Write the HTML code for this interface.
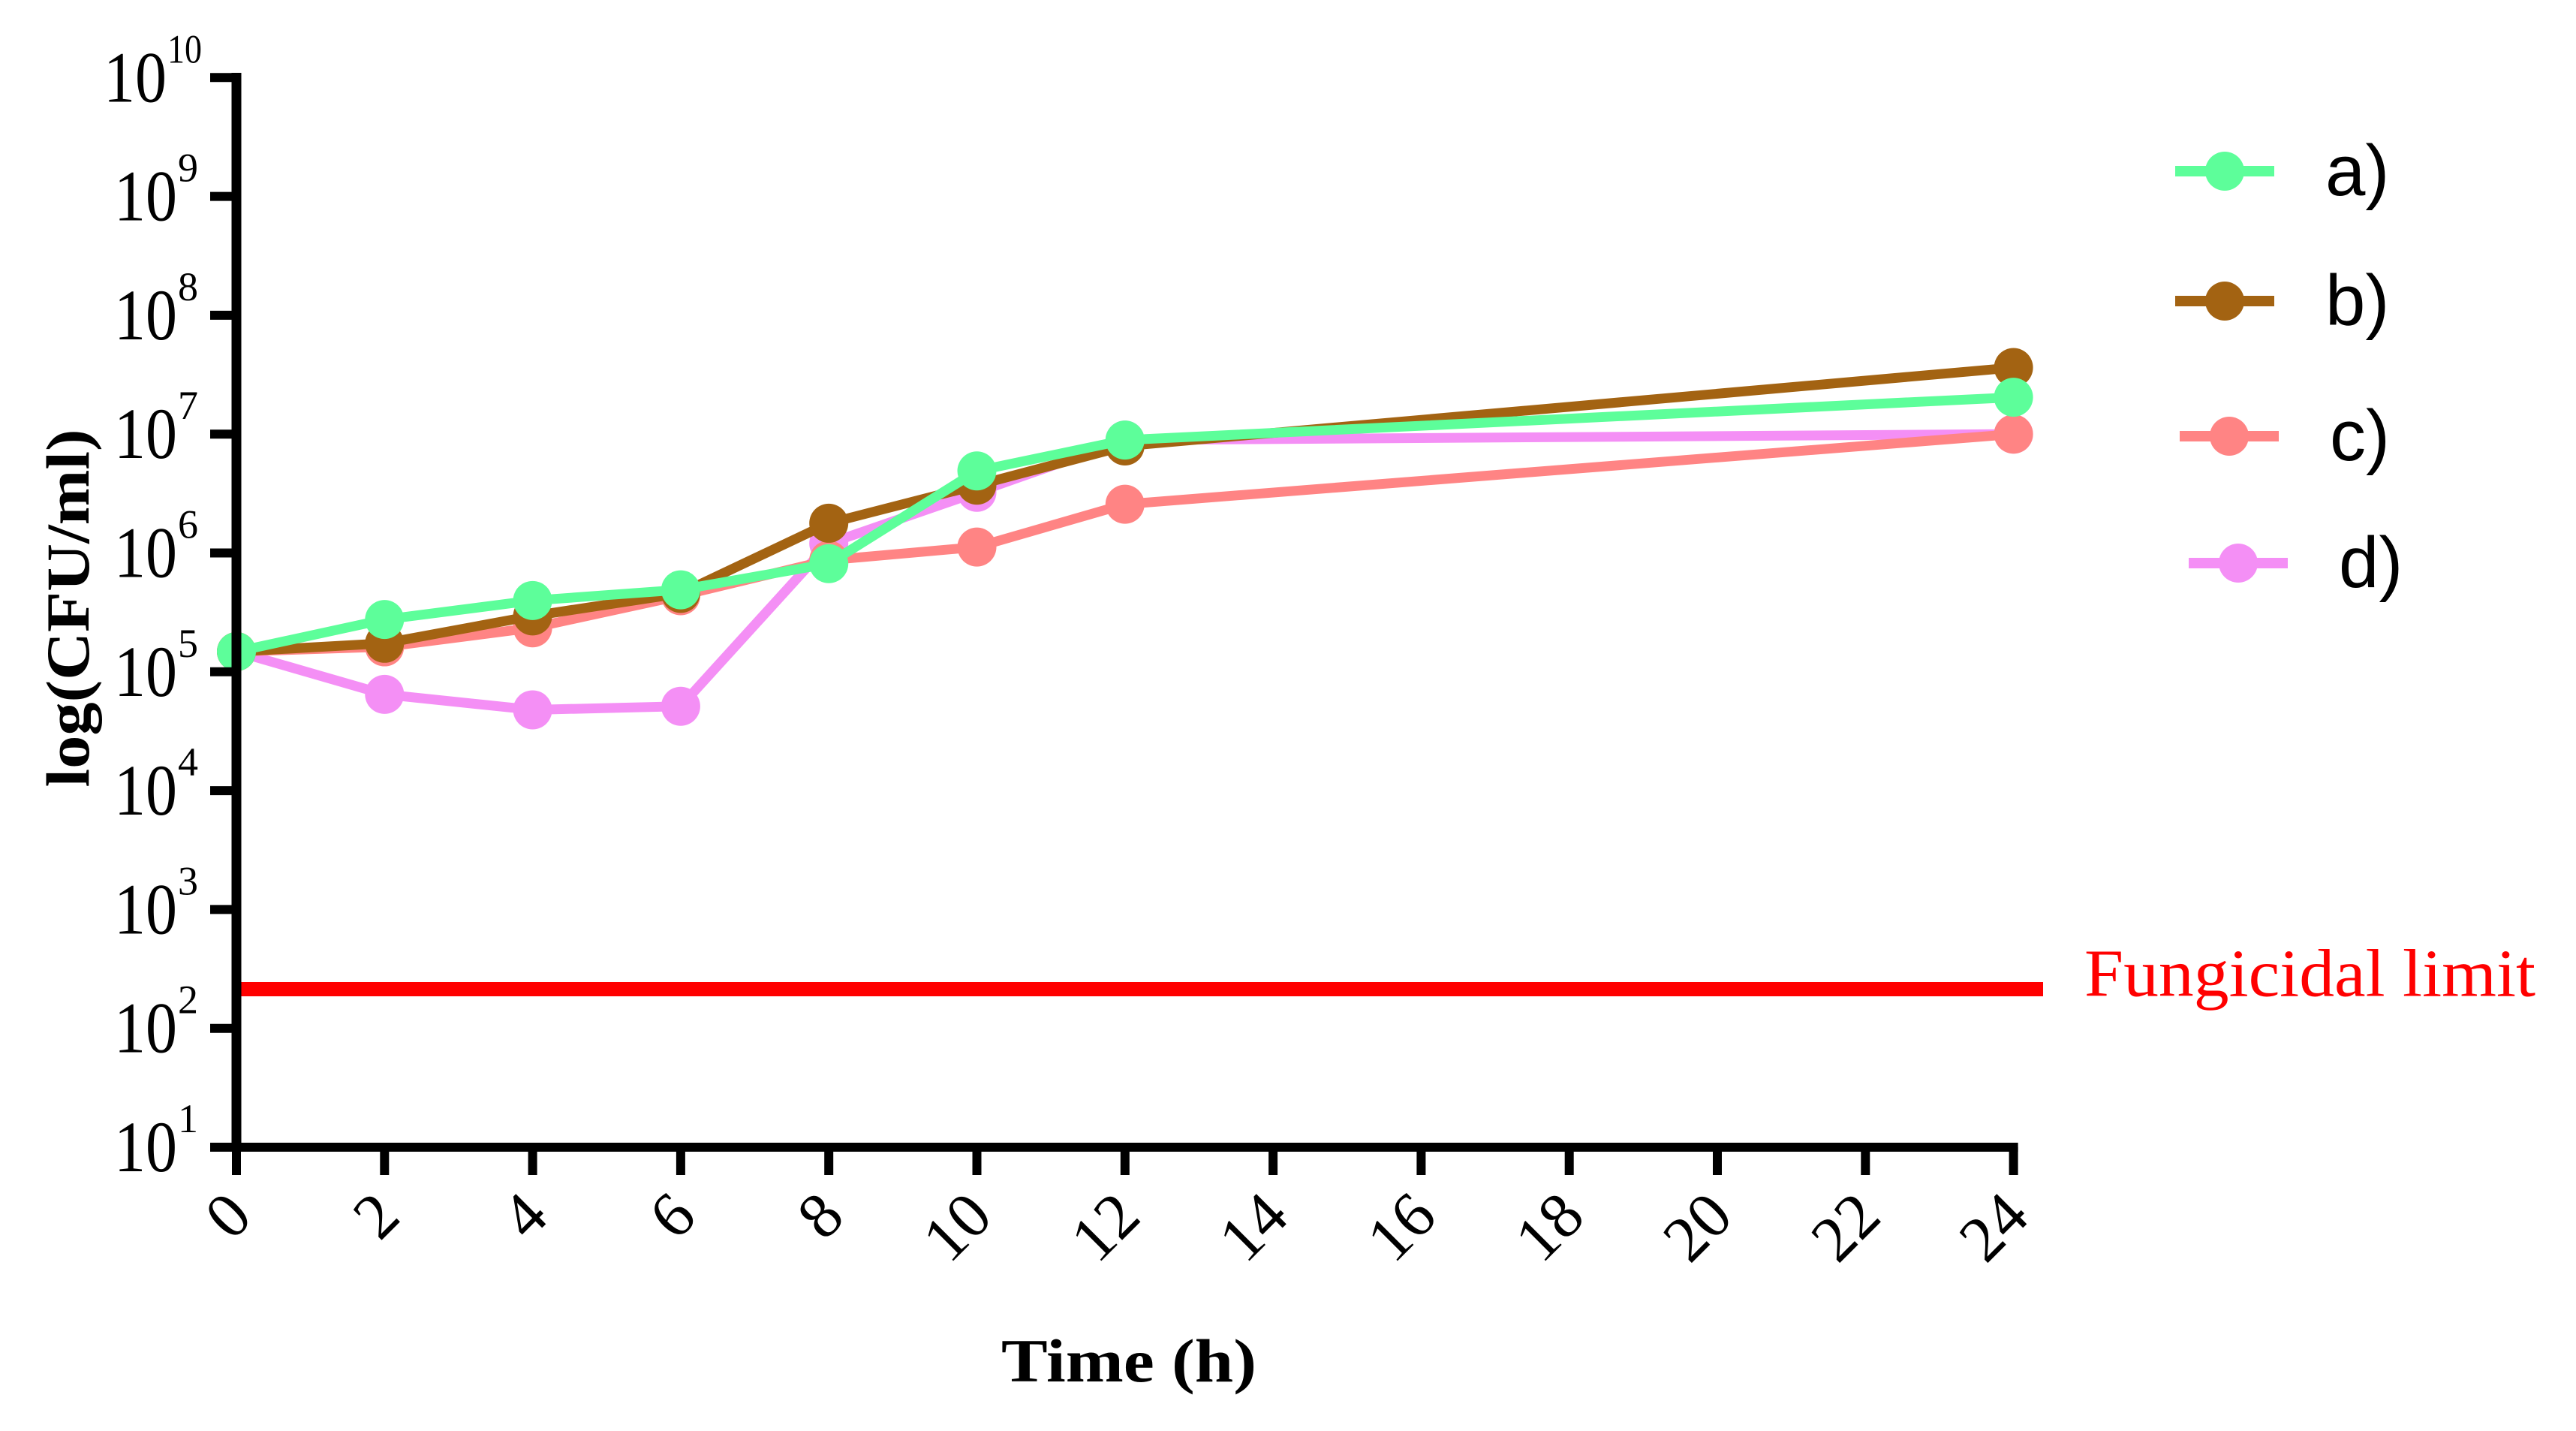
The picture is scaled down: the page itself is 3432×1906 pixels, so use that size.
<!DOCTYPE html>
<html><head><meta charset="utf-8"><style>
html,body{margin:0;padding:0;background:#fff;width:3432px;height:1906px;overflow:hidden}
svg{display:block}
</style></head><body>
<svg id="chart" width="3432" height="1906" viewBox="0 0 3432 1906" xmlns="http://www.w3.org/2000/svg">
</svg>
<script>
const xTicks = [0,2,4,6,8,10,12,14,16,18,20,22,24];
const yExps = [1,2,3,4,5,6,7,8,9,10];
const times = [0,2,4,6,8,10,12,24];
const seriesA = [5.17,5.44,5.60,5.69,5.91,6.69,6.95,7.31];
const seriesB = [5.17,5.24,5.47,5.66,6.25,6.57,6.90,7.56];
const seriesC = [5.17,5.21,5.37,5.64,5.94,6.05,6.41,7.00];
const seriesD = [5.17,4.81,4.68,4.71,6.08,6.51,6.95,7.00];
const seriesNames = ['a)','b)','c)','d)'];
const fungicidalLimit = 2.33;

const NS='http://www.w3.org/2000/svg';
const svg=document.getElementById('chart');
const X0=315, XW=197.3/2, Y1=1528, YD=158.3;
const xs=t=>X0+t*XW;
const ys=e=>Y1-(e-1)*YD;
function mk(tag,attrs,parent){const el=document.createElementNS(NS,tag);for(const k in attrs)el.setAttribute(k,attrs[k]);(parent||svg).appendChild(el);return el;}

let fl=mk('line',{x1:X0,x2:2722,y1:ys(fungicidalLimit),y2:ys(fungicidalLimit),stroke:'#ff0000','stroke-width':19});


let flt=mk('text',{x:2777,y:ys(fungicidalLimit)+9,fill:'#ff0000','font-family':'Liberation Serif, serif','font-size':90,textLength:601,lengthAdjust:'spacingAndGlyphs'});
flt.textContent='Fungicidal limit';



const colors=['#5dfe9a','#a36312','#ff8484','#f48ff5'];
const data=[seriesA,seriesB,seriesC,seriesD];
const legendY=[228,401,581,750];
const legendX=[2964,2964,2970,2982];
[3,2,1,0].forEach(i=>{
  const g=mk('g',{});
  
  
  const pts=times.map((t,j)=>xs(t)+','+ys(data[i][j])).join(' ');
  const pl=mk('polyline',{points:pts,fill:'none',stroke:colors[i],'stroke-width':13,'stroke-linejoin':'round'},g);
  
  
  times.forEach((t,j)=>{
    const c=mk('circle',{cx:xs(t),cy:ys(data[i][j]),r:26,fill:colors[i]},g);
    
    
  });
});
seriesNames.forEach((n,i)=>{
  const g=mk('g',{});
  
  
  const cx=legendX[i], cy=legendY[i];
  mk('line',{x1:cx-66,x2:cx+66,y1:cy,y2:cy,stroke:colors[i],'stroke-width':14},g);
  mk('ellipse',{cx:cx,cy:cy,rx:26,ry:26,fill:colors[i]},g);
  const t=mk('text',{x:cx+134,y:cy+32,'font-family':'Liberation Sans, sans-serif','font-size':96,fill:'#000'},g);
  t.textContent=n;
});

let ya=mk('line',{x1:X0,x2:X0,y1:97,y2:1534,stroke:'#000','stroke-width':13});


let xa=mk('line',{x1:X0-6,x2:xs(24)+6,y1:Y1,y2:Y1,stroke:'#000','stroke-width':12});



yExps.forEach(e=>{
  const y=ys(e);
  const tk=mk('line',{x1:X0-35,x2:X0,y1:y,y2:y,stroke:'#000','stroke-width':12});
  
  
  const baseEnd = e>=10?222:236;
  const t=mk('text',{x:baseEnd,y:y+32,'text-anchor':'end','font-family':'Liberation Serif, serif','font-size':96,fill:'#000',textLength:84,lengthAdjust:'spacingAndGlyphs'});
  
  
  t.textContent='10';
  const s=mk('text',{x:baseEnd+1,y:y-20,'text-anchor':'start','font-family':'Liberation Serif, serif','font-size':54,fill:'#000'});
  s.textContent=String(e);
  if(e>=10){s.setAttribute('textLength',46);s.setAttribute('lengthAdjust','spacingAndGlyphs');}
});
xTicks.forEach(v=>{
  const x=xs(v);
  const tk=mk('line',{x1:x,x2:x,y1:Y1,y2:Y1+37,stroke:'#000','stroke-width':12});
  
  
  const t=mk('text',{transform:`translate(${x+24},${1624}) rotate(-45)`,'text-anchor':'end','font-family':'Liberation Serif, serif','font-size':86,fill:'#000'});
  
  
  t.textContent=String(v);
});

let yt=mk('text',{transform:'translate(118,810) rotate(-90)','text-anchor':'middle','font-family':'Liberation Serif, serif','font-weight':'bold','font-size':82,fill:'#000',textLength:477,lengthAdjust:'spacingAndGlyphs'});
yt.textContent='log(CFU/ml)';


let xt=mk('text',{x:1504,y:1840,'text-anchor':'middle','font-family':'Liberation Serif, serif','font-weight':'bold','font-size':82,fill:'#000',textLength:340,lengthAdjust:'spacingAndGlyphs'});
xt.textContent='Time (h)';


</script>
</body></html>
